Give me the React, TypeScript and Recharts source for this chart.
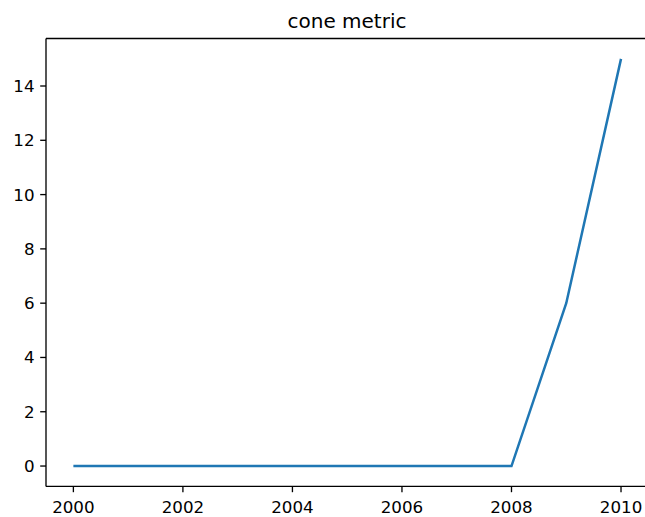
import React from "react";
import { LineChart, Line, XAxis, YAxis, ReferenceLine } from "recharts";

const years = [2000, 2001, 2002, 2003, 2004, 2005, 2006, 2007, 2008, 2009, 2010];
const coneValues = [0, 0, 0, 0, 0, 0, 0, 0, 0, 6, 15];
const xTicks = [2000, 2002, 2004, 2006, 2008, 2010];
const yTicks = [0, 2, 4, 6, 8, 10, 12, 14];

const data = years.map((year, i) => ({ year, value: coneValues[i] }));

const font = "'DejaVu Sans', sans-serif";
const tickStyle = { fontSize: 16.7, fill: "#000", fontFamily: font };
const spine = { stroke: "#000", strokeWidth: 1.33 };

export default function App() {
  return (
    <div
      style={{
        position: "absolute",
        left: 0,
        top: 0,
        width: 645,
        height: 517,
        overflow: "hidden",
        background: "#fff",
        fontFamily: font,
      }}
    >
      <div
        style={{
          position: "absolute",
          left: 46,
          width: 602,
          top: 10.8,
          textAlign: "center",
          fontSize: 20,
          lineHeight: "20px",
          color: "#000",
        }}
      >
        cone metric
      </div>
      <LineChart
        width={660}
        height={517}
        data={data}
        margin={{ top: 38.5, right: 11.6, bottom: 0, left: 0 }}
      >
        <XAxis
          dataKey="year"
          type="number"
          domain={[1999.5, 2010.5]}
          ticks={xTicks}
          allowDataOverflow
          height={30.6}
          tickSize={5.8}
          tickMargin={9}
          tick={tickStyle}
          stroke="#000"
          axisLine={spine}
          tickLine={spine}
        />
        <YAxis
          type="number"
          domain={[-0.75, 15.75]}
          ticks={yTicks}
          allowDataOverflow
          width={46}
          tickSize={5.8}
          tickMargin={5.7}
          tick={tickStyle}
          stroke="#000"
          axisLine={spine}
          tickLine={spine}
        />
        <ReferenceLine y={15.75} stroke="#000" strokeWidth={1.33} />
        <Line
          dataKey="value"
          type="linear"
          stroke="#1f77b4"
          strokeWidth={2.5}
          dot={false}
          isAnimationActive={false}
        />
      </LineChart>
    </div>
  );
}
